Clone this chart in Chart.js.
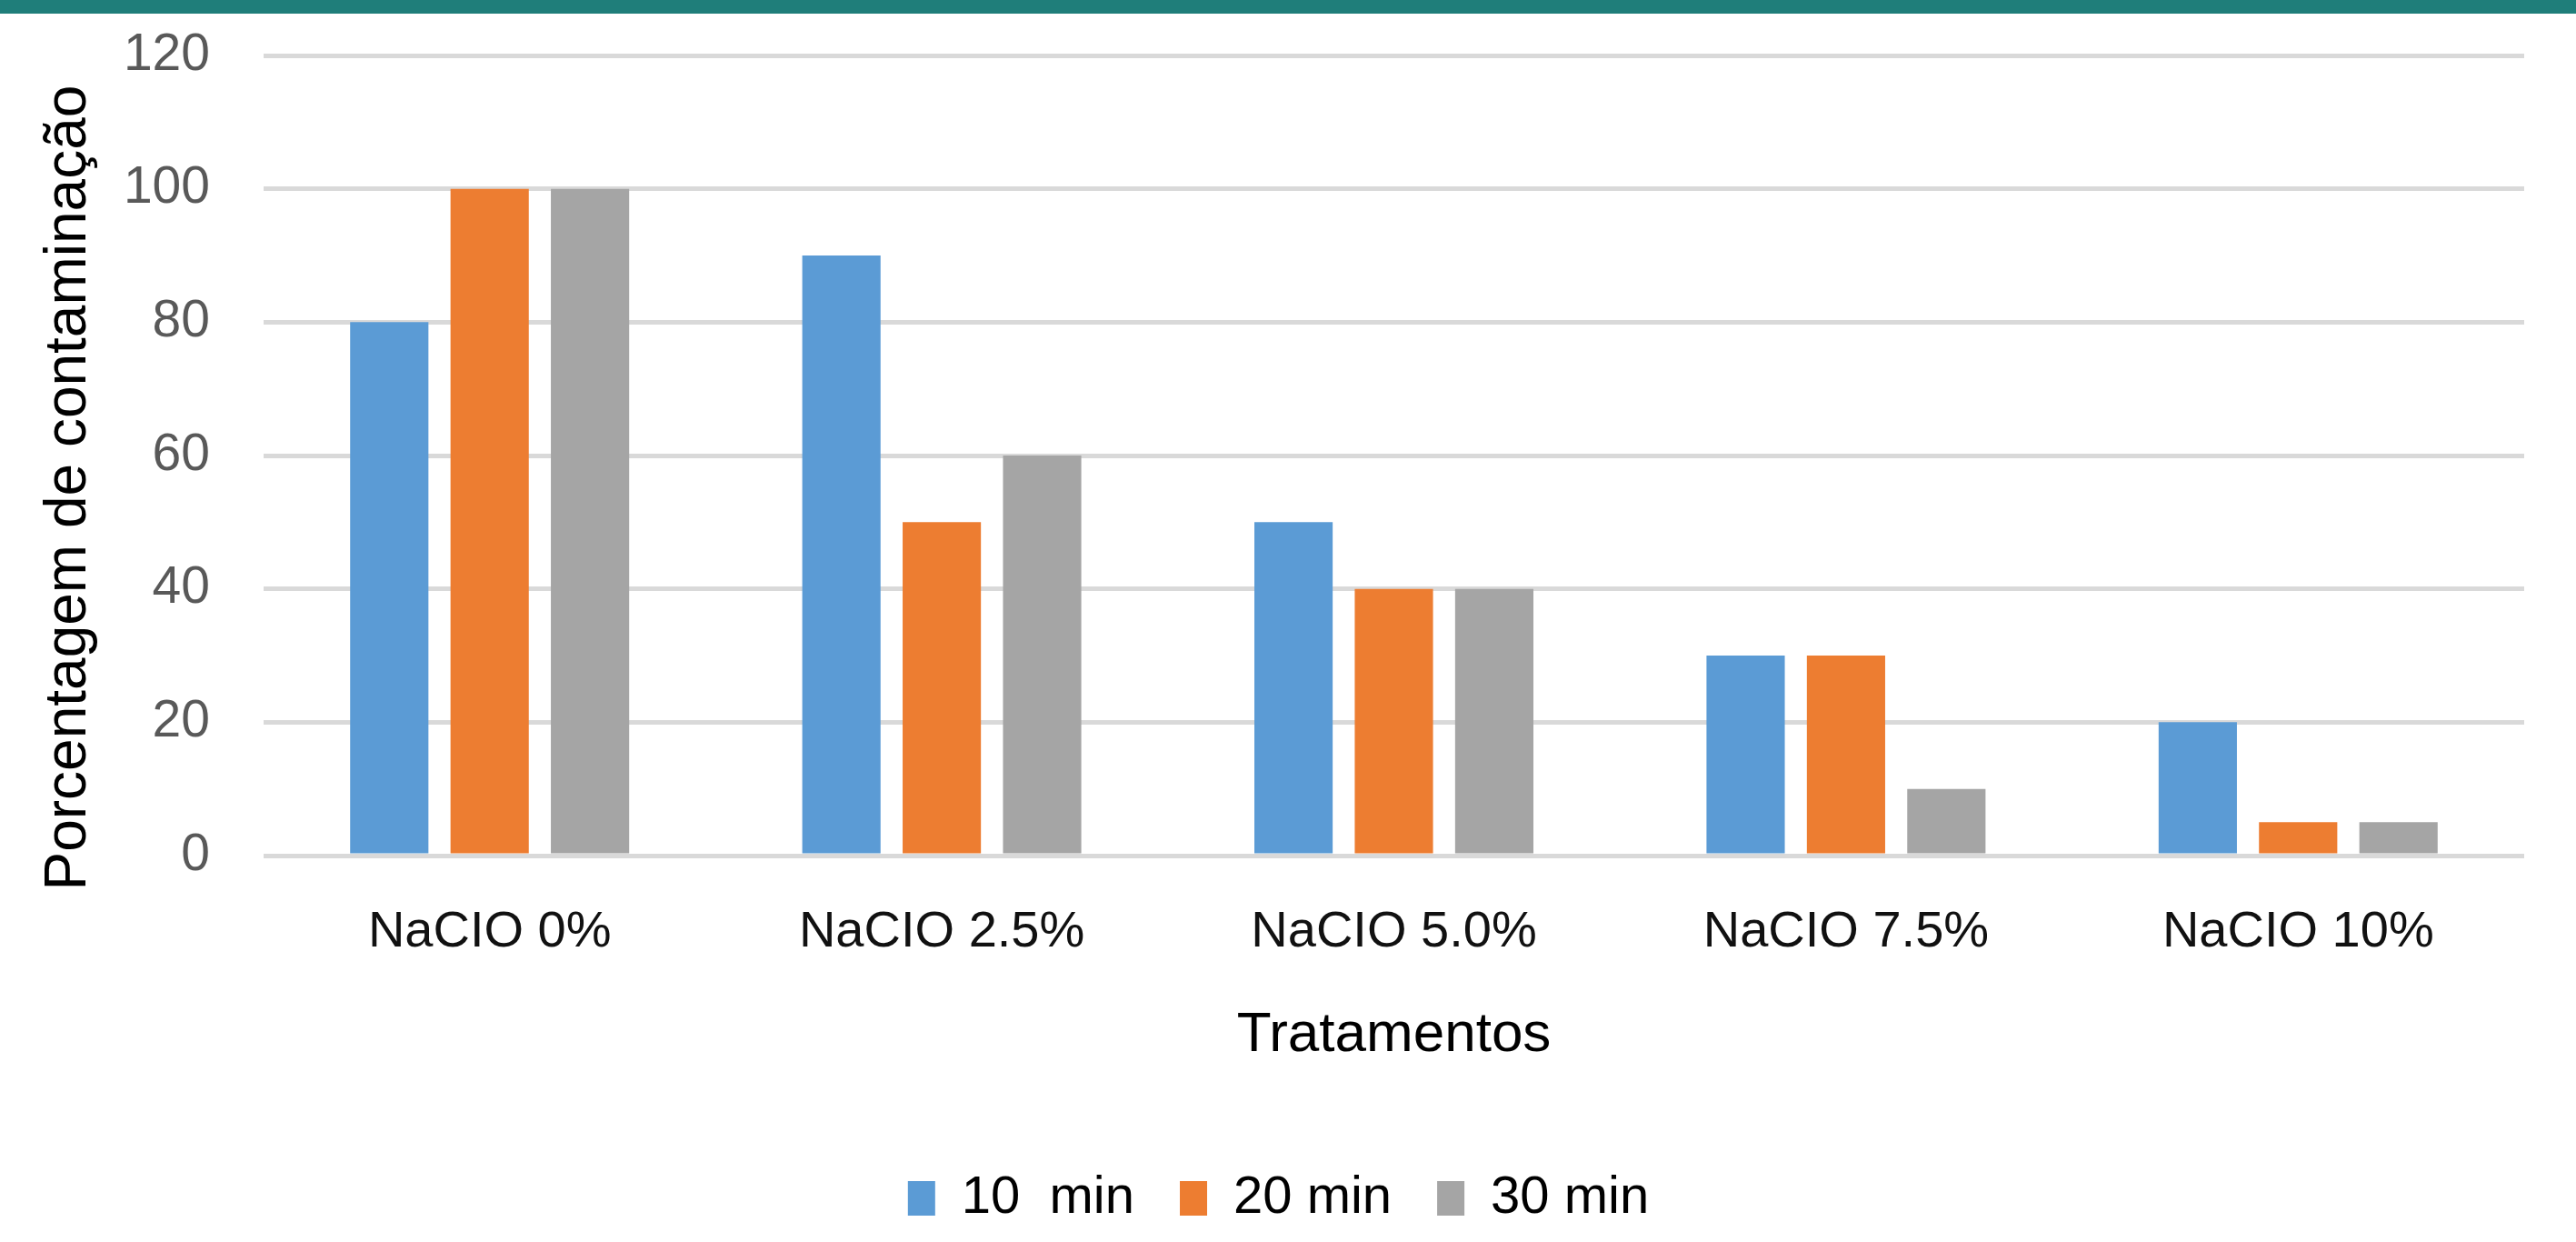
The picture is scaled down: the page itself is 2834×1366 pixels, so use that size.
<!DOCTYPE html>
<html lang="pt">
<head>
<meta charset="utf-8">
<title>Porcentagem de contaminação por tratamento</title>
<script src="https://cdn.jsdelivr.net/npm/chart.js@4/dist/chart.umd.min.js"></script>
<style>
  html, body { margin: 0; padding: 0; background: #ffffff; overflow: hidden; }
  #wrap { position: relative; width: 2834px; height: 1366px; }
  #band { position: absolute; left: 0; top: 0; width: 2834px; height: 15px; background: #1f7e7a; z-index: 2; }
  canvas { position: absolute; left: 0; top: 0; }
</style>
</head>
<body>
<div id="wrap">
  <div id="band"></div>
  <canvas id="chart" width="2834" height="1366"></canvas>
</div>
<script>
// Treatments (sodium hypochlorite concentration)
const categories = ['NaClO 0%', 'NaClO 2.5%', 'NaClO 5.0%', 'NaClO 7.5%', 'NaClO 10%'];
// Contamination percentage per immersion time
const min10 = [80, 90, 50, 30, 20];
const min20 = [100, 50, 40, 30, 5];
const min30 = [100, 60, 40, 10, 5];
const seriesNames = ['10  min', '20 min', '30 min'];
const yTicks = [0, 20, 40, 60, 80, 100, 120];

const FONT = "'Liberation Sans', Arial, sans-serif";
const PLOT_TOP = 61;
const PLOT_BOTTOM = 941;
const BOTTOM_PAD = 9;

new Chart(document.getElementById('chart'), {
  type: 'bar',
  data: {
    labels: categories.map(c => c.replace('Cl', 'CI')),
    datasets: [
      { label: seriesNames[0], data: min10, backgroundColor: '#5b9bd5' },
      { label: seriesNames[1], data: min20, backgroundColor: '#ed7d31' },
      { label: seriesNames[2], data: min30, backgroundColor: '#a5a5a5' }
    ]
  },
  options: {
    responsive: false,
    animation: false,
    devicePixelRatio: 1,
    datasets: { bar: { categoryPercentage: 0.666, barPercentage: 0.78, borderWidth: 0 } },
    layout: { padding: { top: PLOT_TOP, left: 36, right: 57, bottom: BOTTOM_PAD } },
    plugins: {
      tooltip: { enabled: false },
      legend: {
        position: 'bottom',
        labels: {
          boxWidth: 30,
          boxHeight: 38,
          padding: 50,
          color: '#000000',
          font: { family: FONT, size: 58 }
        }
      }
    },
    scales: {
      x: {
        grid: { display: false },
        border: { display: false },
        ticks: { color: '#111111', padding: 43, font: { family: FONT, size: 56 } },
        title: {
          display: true,
          text: 'Tratamentos',
          color: '#000000',
          font: { family: FONT, size: 62 },
          padding: { top: 0, bottom: 63 }
        },
        afterFit(scale) {
          const lg = scale.chart.legend;
          const lgH = lg ? lg.height : 118;
          scale.height = scale.chart.height - BOTTOM_PAD - lgH - PLOT_BOTTOM;
        }
      },
      y: {
        min: yTicks[0],
        max: yTicks[yTicks.length - 1],
        afterBuildTicks(scale) { scale.ticks = yTicks.map(v => ({ value: v })); },
        grid: {
          color: '#d9d9d9',
          lineWidth: 5,
          drawTicks: true,
          tickLength: 34,
          tickColor: 'rgba(0,0,0,0)'
        },
        border: { display: false },
        ticks: { color: '#595959', padding: 25, font: { family: FONT, size: 57 } },
        title: {
          display: true,
          text: 'Porcentagem de contaminação    ',
          color: '#000000',
          font: { family: FONT, size: 64 },
          padding: { top: 2, bottom: 0 }
        },
        afterFit(scale) { scale.width = 254; }
      }
    }
  }
});
</script>
</body>
</html>
